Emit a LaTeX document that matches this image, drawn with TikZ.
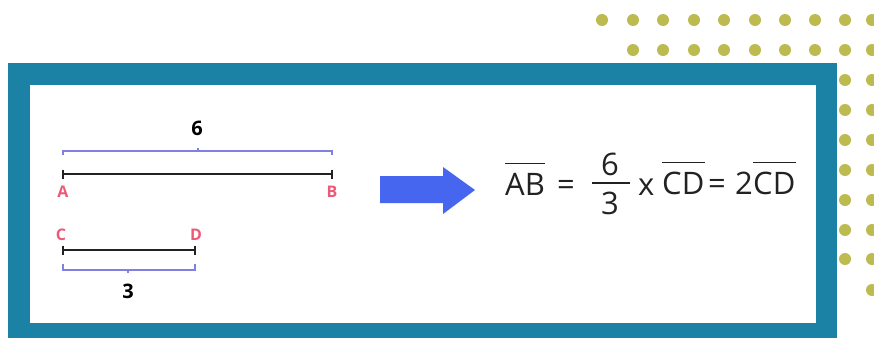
\documentclass[tikz,border=0pt]{standalone}
\usepackage{fontspec}
\setmainfont{Open Sans}
\begin{document}
\begin{tikzpicture}[x=1pt,y=-1pt,
  framecol/.style={fill=frameblue},
  dotstyle/.style={fill=dotolive},
  seg/.style={draw=segblack,line width=1.8pt},
  brace/.style={draw=bracecol,line width=1.1pt},
  ptlabel/.style={text=ptred,font=\fontsize{16}{16}\selectfont\bfseries,inner sep=0pt},
  numlabel/.style={font=\fontsize{20}{20}\selectfont\bfseries,inner sep=0pt},
  eq/.style={font=\fontsize{31}{31}\selectfont,text=eqgray,inner sep=0pt,anchor=base west},
  ovl/.style={draw=eqgray,line width=1.6pt}]
\definecolor{frameblue}{HTML}{1B82A6}
\definecolor{dotolive}{HTML}{BDBA4F}
\definecolor{segblack}{HTML}{222222}
\definecolor{bracecol}{HTML}{7F80E2}
\definecolor{ptred}{HTML}{EC5A78}
\definecolor{arrowblue}{HTML}{4766EF}
\definecolor{eqgray}{HTML}{222222}
\useasboundingbox (0,0) rectangle (874,338);
\fill[white] (0,0) rectangle (874,338);
% dots
\foreach \x in {602,633,663,694,724,755,785,815,845,872} \fill[dotstyle] (\x,20) circle (6);
\foreach \x in {633,663,694,724,755,785,815,845,872} \fill[dotstyle] (\x,50) circle (6);
\foreach \y in {80,110,140,170,200,230,259} {\fill[dotstyle] (845,\y) circle (6); \fill[dotstyle] (872,\y) circle (6);}
\fill[dotstyle] (872,290) circle (6);
% frame
\fill[framecol] (8,63) rectangle (837,338);
\fill[white] (30,85) rectangle (816,323);
% left: segments
\coordinate (A) at (63,174);
\coordinate (B) at (332,174);
\coordinate (C) at (63,250);
\coordinate (D) at (195,250);
\draw[seg] (A) -- (B);
\draw[seg] ([yshift=4.5pt]A) -- ([yshift=-4.5pt]A);
\draw[seg] ([yshift=4.5pt]B) -- ([yshift=-4.5pt]B);
\draw[seg] (C) -- (D);
\draw[seg] ([yshift=4.5pt]C) -- ([yshift=-4.5pt]C);
\draw[seg] ([yshift=4.5pt]D) -- ([yshift=-4.5pt]D);
\node[ptlabel] (la) at (63,192) {A};
\node[ptlabel] (lb) at (332,192) {B};
\node[ptlabel] (lc) at (61,235) {C};
\node[ptlabel] (ld) at (196,235) {D};
% braces
\coordinate (t1) at (63,151);
\coordinate (t2) at (332,151);
\coordinate (tm) at (198,151);
\draw[brace] ([yshift=-4pt]t1) -- (t1) -- (t2) -- ([yshift=-4pt]t2);
\draw[brace] (tm) -- ([yshift=3pt]tm);
\coordinate (b1) at (63,270);
\coordinate (b2) at (195,270);
\coordinate (bm) at (128,270);
\draw[brace] ([yshift=6pt]b1) -- (b1) -- (b2) -- ([yshift=6pt]b2);
\draw[brace] (bm) -- ([yshift=-3pt]bm);
\node[numlabel] (six) at (197,128) {6};
\node[numlabel] (three) at (128,291) {3};
% arrow
\fill[arrowblue] (380,176) -- (443,176) -- (443,167) -- (475,190) -- (443,214) -- (443,203) -- (380,203) -- cycle;
% equation
\node[eq] (ab) at (505,195) {AB};
\draw[ovl] ([yshift=9pt]ab.north west) -- ([yshift=9pt]ab.north east);
\node[eq] (eq1) at (557,195) {=};
\node[eq,anchor=center] (fn) at (610,164) {6};
\draw[ovl] (592,183) -- (630,183);
\node[eq,anchor=center] (fd) at (610,203) {3};
\node[eq] (times) at (638,195) {x};
\node[eq] (cd1) at (662,194) {CD};
\draw[ovl] ([yshift=9pt]cd1.north west) -- ([yshift=9pt]cd1.north east);
\node[eq] (eq2) at (708,194) {=};
\node[eq] (two) at (735,194) {2};
\node[eq] (cd2) at (753,194) {CD};
\draw[ovl] ([yshift=9pt]cd2.north west) -- ([yshift=9pt]cd2.north east);
\end{tikzpicture}
\end{document}
